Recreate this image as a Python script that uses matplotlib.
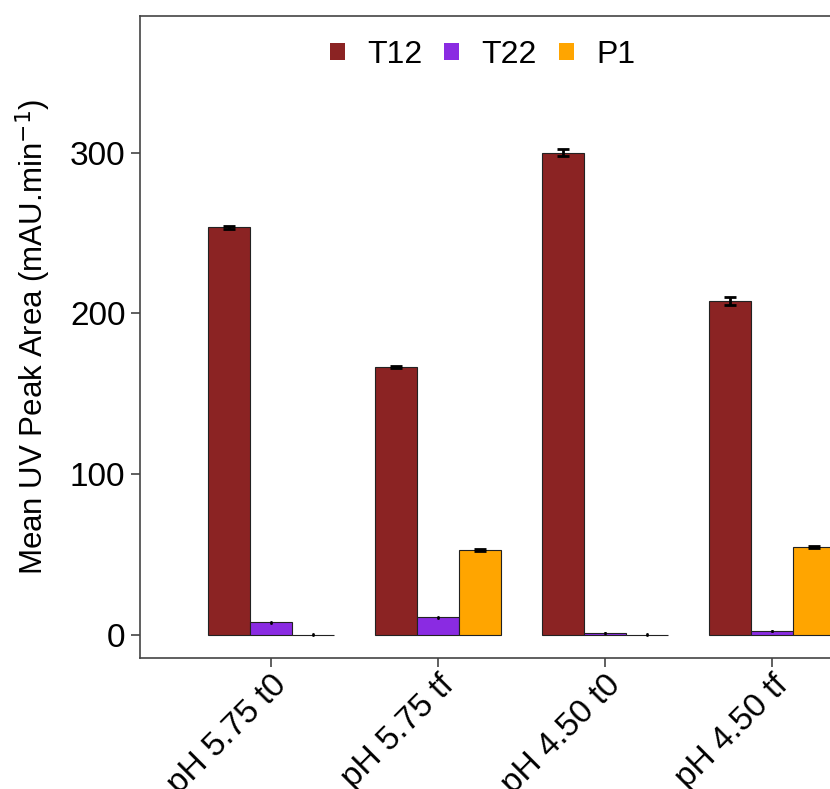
import numpy as np
import matplotlib.pyplot as plt
from matplotlib.patches import Patch

plt.rcParams['font.family'] = ['Liberation Sans', 'DejaVu Sans']

# data
samples = ['pH 5.75 t0', 'pH 5.75 tf', 'pH 4.50 t0', 'pH 4.50 tf']
series = ['T12', 'T22', 'P1']
t12 = [253.5, 166.8, 300.0, 207.5]
t12_err = [0.8, 0.8, 2.0, 2.5]
t22 = [8.0, 11.0, 1.2, 2.5]
t22_err = [0.3, 0.3, 0.2, 0.3]
p1 = [0.2, 53.0, 0.2, 54.8]
p1_err = [0.2, 0.6, 0.2, 0.6]
colors = ['#8B2323', '#8A2BE2', '#FFA500']

# cap half-widths (pt); the tiny bars only show a dot in the original
caps = [[4.3] * 4, [1.0] * 4, [1.0, 4.3, 1.0, 4.3]]

fig = plt.figure(figsize=(8.3, 7.89), dpi=100)
# axes deliberately runs past the right edge, like the cropped original
ax = fig.add_axes([140 / 830, 1 - 658 / 789, (903 - 140) / 830, (658 - 16) / 789])

x = np.arange(1, len(samples) + 1)
w = 0.25
for i, (vals, errs) in enumerate([(t12, t12_err), (t22, t22_err), (p1, p1_err)]):
    xs = x + (i - 1) * w
    ax.bar(xs, vals, width=w, color=colors[i], edgecolor='#222222',
           linewidth=0.8, zorder=2)
    for j in range(len(xs)):
        ax.errorbar(xs[j], vals[j], yerr=errs[j], fmt='none', ecolor='black',
                    elinewidth=2, capsize=caps[i][j], capthick=2, zorder=3)

ax.set_xlim(0.216, 4.784)
ax.set_ylim(-14.3, 385)
ax.set_yticks([0, 100, 200, 300])
ax.set_xticks(x)
ax.set_xticklabels(samples, rotation=45, ha='right', rotation_mode='anchor')
ax.tick_params(axis='both', labelsize=24, length=6.5, width=1.2, color='#444444',
               labelcolor='black')
ax.tick_params(axis='y', pad=4)
ax.tick_params(axis='x', pad=2)
for s in ax.spines.values():
    s.set_color('#444444')
    s.set_linewidth(1.2)

ax.set_ylabel('Mean UV Peak Area (mAU.min$^{-1}$)', fontsize=22.5, labelpad=12)

handles = [Patch(facecolor=c, edgecolor='none') for c in colors]
ax.legend(handles, series, loc='upper center', bbox_to_anchor=(0.449, 1.0),
          ncol=3, frameon=False, fontsize=23, handlelength=0.47, handleheight=0.47,
          handletextpad=0.69, columnspacing=0.69, borderaxespad=0.35)

fig.savefig('out.png', dpi=100)
